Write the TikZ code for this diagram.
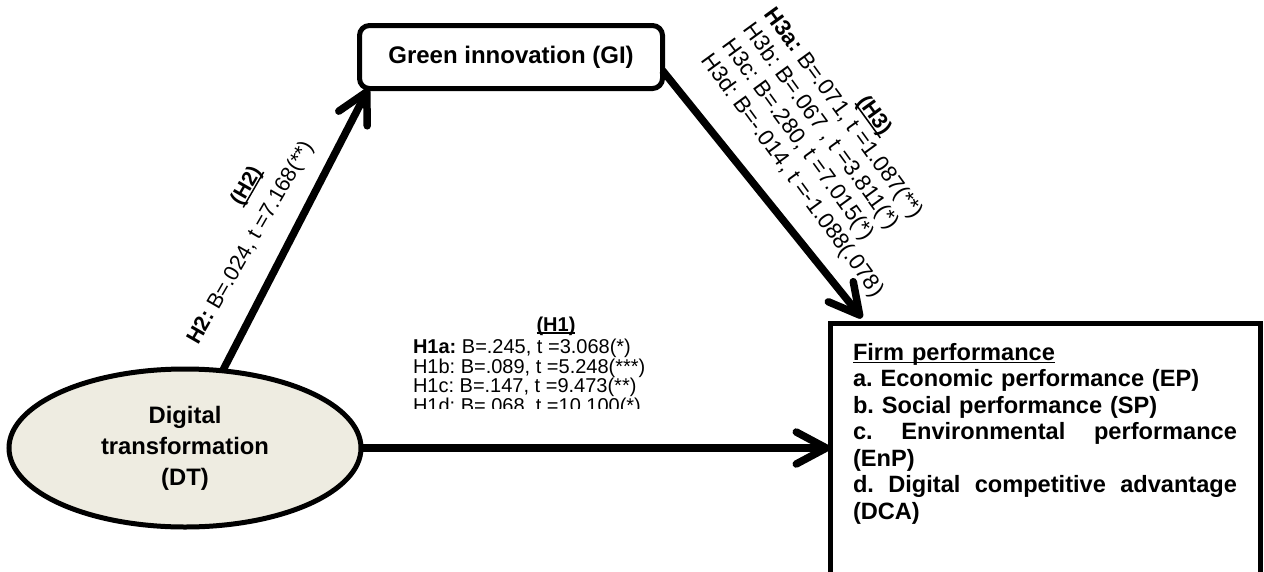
\documentclass[tikz,border=0pt]{standalone}
\usepackage{fontspec}
\setmainfont{Liberation Sans}
\usetikzlibrary{arrows.meta,shapes.geometric}
\definecolor{dtbeige}{HTML}{EEECE1}
\newcommand{\hypul}[1]{\setbox0\hbox{#1}\rlap{\rule[-0.13em]{\wd0}{0.07em}}\box0}

\begin{document}
\frenchspacing
\begin{tikzpicture}[x=1pt, y=-1pt, outer sep=0pt,
    link/.style={line width=7.5pt, -{Straight Barb[length=30pt, width=32pt, round]}},
    hyptext/.style={inner sep=0pt, align=left},
    boxtext/.style={font=\fontsize{23.6}{26.5}\selectfont\bfseries}]
    \useasboundingbox (0,0) rectangle (1264,571);

    \node[draw, line width=5pt, rounded corners=10pt, minimum width=303pt, minimum height=63pt, font=\fontsize{24}{26}\selectfont\bfseries] (gi) at (511,57) {Green innovation (GI)};

    \node[ellipse, draw, fill=dtbeige, line width=5pt, minimum width=352pt, minimum height=158pt, inner sep=0pt, align=center, font=\fontsize{23.8}{31}\selectfont\bfseries] (dt) at (185,448) {Digital\\transformation\\(DT)};

    \node[draw, line width=5pt, anchor=north west, text width=384pt, inner xsep=23pt, inner ysep=20pt, align=left, boxtext] (fp) at (830,323)
        {\hypul{Firm performance}\\
         a. Economic performance (EP)\\
         b. Social performance (SP)\\
         c.\hfill Environmental\hfill performance\\
         (EnP)\\
         d.\hfill Digital\hfill competitive\hfill advantage\\
         (DCA)\par\rule{0pt}{60pt}};

    % paths
    \draw[link] (dt.64.6) -- ([xshift=9pt]gi.south west);
    \draw[link] ([yshift=18pt]gi.south east) -- ([xshift=32pt,yshift=5pt]fp.north west);
    \draw[link] (dt.east) -- (dt.east -| fp.west);

    % H1
    \node[font=\fontsize{20}{20}\selectfont\bfseries] (h1title) at (556,326) {\hypul{(H1)}};
    \begin{scope}
        \clip (400,300) rectangle (700,408);
        \node[hyptext, anchor=north west, font=\fontsize{20}{19.6}\selectfont] (h1) at (413,339)
            {\textbf{H1a:} B=.245, t =3.068(*)\\
             H1b: B=.089, t =5.248(***)\\
             H1c: B=.147, t =9.473(**)\\
             H1d: B=.068, t =10.100(*)};
    \end{scope}

    % H2
    \node[rotate=60, font=\fontsize{21}{21}\selectfont\bfseries] (h2title) at (247,186) {\hypul{(H2)}};
    \node[rotate=60, hyptext, font=\fontsize{21.5}{21}\selectfont] (h2) at (251,243) {\textbf{H2:} B=.024, t =7.168(**)};

    % H3
    \node[rotate=-54, font=\fontsize{22}{26}\selectfont\bfseries] (h3title) at (874,116) {\hypul{(H3)}};
    \node[rotate=-54, hyptext, anchor=west, font=\fontsize{22.5}{26}\selectfont] (h3) at (737,34)
        {\textbf{H3a:} B=.071, t =1.087(**)\\
         H3b: B=.067 , t =3.811(*)\\
         H3c: B=.280, t =7.015(*)\\
         H3d: B=-.014, t =-1.088(.078)};
\end{tikzpicture}
\end{document}
